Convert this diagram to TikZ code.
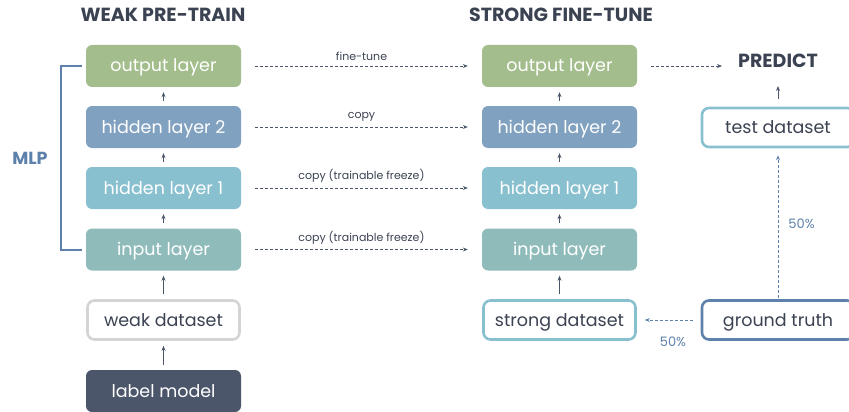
\documentclass[tikz,border=0pt]{standalone}
\usepackage{fontspec}
\setmainfont{Poppins}
\usetikzlibrary{arrows.meta}
\definecolor{cgreen}{HTML}{A3BE8C}
\definecolor{chid2}{HTML}{81A1C1}
\definecolor{chid1}{HTML}{88C0D0}
\definecolor{cinput}{HTML}{8FBCBB}
\definecolor{cdark}{HTML}{4C566A}
\definecolor{ctext}{HTML}{3B4252}
\definecolor{cblue}{HTML}{5E81AC}
\definecolor{cgray}{HTML}{D4D4D4}
\tikzset{
  x=1pt, y=-1pt,
  layer/.style={rounded corners=6pt, minimum width=155pt, minimum height=42pt, inner sep=0pt, text height=13.5pt, text depth=1.5pt, text=white, font=\fontsize{17.5}{20}\selectfont},
  outbox/.style={rounded corners=7pt, minimum width=152pt, minimum height=39pt, inner sep=0pt, text height=13.5pt, text depth=1.5pt, fill=white, line width=2.6pt, text=ctext, font=\fontsize{17.5}{20}\selectfont},
  title/.style={font=\fontsize{19}{22}\selectfont\bfseries, text=ctext},
  uparrow/.style={-{Stealth[length=5pt,width=4pt]}, cdark, line width=0.9pt},
  dasharrow/.style={-{Stealth[length=5pt,width=4pt]}, cdark, line width=0.8pt, dash pattern=on 3pt off 2pt},
  bluedash/.style={-{Stealth[length=5pt,width=4pt]}, cblue, line width=0.9pt, dash pattern=on 3pt off 2pt},
  lbl/.style={font=\fontsize{11}{13}\selectfont, text=ctext, inner sep=0pt},
  pct/.style={font=\fontsize{13}{15}\selectfont, text=cblue, inner sep=0pt},
}
\begin{document}
\begin{tikzpicture}
\useasboundingbox (0,0) rectangle (849,412);
\clip (0,0) rectangle (849,412);
% titles
\node[title] (t1) at (163,15) {WEAK PRE-TRAIN};
\node[title] (t2) at (561,15) {STRONG FINE-TUNE};
% left column
\node[layer, fill=cgreen] (lo) at (163.5,66) {output layer};
\node[layer, fill=chid2] (lh2) at (163.5,127) {hidden layer 2};
\node[layer, fill=chid1] (lh1) at (163.5,188) {hidden layer 1};
\node[layer, fill=cinput] (li) at (163.5,249.5) {input layer};
\node[outbox, draw=cgray] (lw) at (163.5,320) {weak dataset};
\node[layer, fill=cdark] (lm) at (163.5,391) {label model};
% right column
\node[layer, fill=cgreen] (ro) at (559.5,66) {output layer};
\node[layer, fill=chid2] (rh2) at (559.5,127) {hidden layer 2};
\node[layer, fill=chid1] (rh1) at (559.5,188) {hidden layer 1};
\node[layer, fill=cinput] (ri) at (559.5,249.5) {input layer};
\node[outbox, draw=chid1] (rs) at (559.5,320) {strong dataset};
% far right
\node[title] (pred) at (778,61) {PREDICT};
\node[outbox, draw=chid1] (test) at (778,127.5) {test dataset};
\node[outbox, draw=cblue] (gt) at (778,320) {ground truth};
% vertical arrows
\foreach \a/\b in {lh2/lo, lh1/lh2, li/lh1, lw/li, lm/lw, rh2/ro, rh1/rh2, ri/rh1, rs/ri}{
  \draw[uparrow] ([yshift=5pt]\a.north) -- ([yshift=-5pt]\b.south);
}
\coordinate (pt) at (778,86);
\draw[uparrow] ([yshift=8pt]test.north) -- (pt);
% horizontal dashed arrows
\draw[dasharrow] ([xshift=14pt]lo.east) -- node[lbl, above=5pt] {fine-tune} ([xshift=-14pt]ro.west);
\draw[dasharrow] ([xshift=14pt]lh2.east) -- node[lbl, above=5pt] {copy} ([xshift=-14pt]rh2.west);
\draw[dasharrow] ([xshift=14pt]lh1.east) -- node[lbl, above=5pt] {copy (trainable freeze)} ([xshift=-14pt]rh1.west);
\draw[dasharrow] ([xshift=14pt]li.east) -- node[lbl, above=5pt] {copy (trainable freeze)} ([xshift=-14pt]ri.west);
\coordinate (pa) at (722,66);
\draw[dasharrow] ([xshift=14pt]ro.east) -- (pa);
% ground truth splits
\draw[bluedash] ([yshift=1pt]gt.north) -- node[pct, right=10pt, pos=0.52] {50\%} ([yshift=-7pt]test.south);
\draw[bluedash] ([xshift=-8pt]gt.west) -- ([xshift=8pt]rs.east);
\node[pct] (p2) at (673,342) {50\%};
% MLP bracket
\coordinate (b1) at (82,66);
\coordinate (b2) at (82,250);
\draw[cblue, line width=2pt] (b1) -- (61,66) -- (61,250) -- (b2);
\node[font=\fontsize{17.5}{20}\selectfont\bfseries, text=cblue] (mlp) at (30,158) {MLP};
\end{tikzpicture}
\end{document}
